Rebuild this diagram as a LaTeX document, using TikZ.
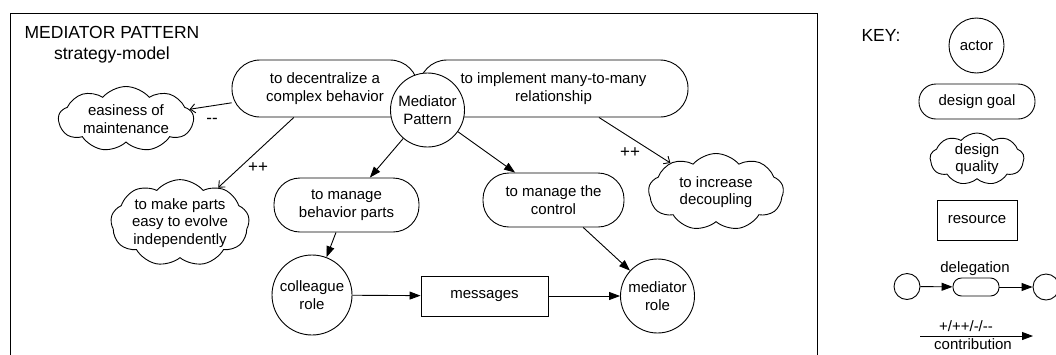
\documentclass[tikz,border=0pt]{standalone}
\usepackage{fontspec}
\setmainfont{Liberation Sans}
\usetikzlibrary{shapes.symbols,arrows.meta}

\begin{document}
\begin{tikzpicture}[x=1pt,y=-1pt,
  every node/.style={font=\fontsize{15}{17.5}\selectfont, align=center, inner sep=0pt},
  ln/.style={line width=0.9pt},
  actor/.style={circle,draw,fill=white,ln},
  goal/.style={rectangle,draw,fill=white,rounded corners=28pt,minimum height=57pt,ln},
  quality/.style={cloud,draw,fill=white,cloud ignores aspect,cloud puffs=9,cloud puff arc=100,ln},
  resource/.style={rectangle,draw,fill=white,ln},
  dep/.style={ln,-{Triangle[length=11pt,width=8pt]}},
  contrib/.style={ln,-{Straight Barb[length=5pt,width=9pt]}},
  sign/.style={font=\fontsize{17}{20}\selectfont},
  big/.style={font=\fontsize{17.5}{20}\selectfont}
]
\useasboundingbox (0,0) rectangle (1056,354);

% strategy-model frame
\draw[line width=1pt] (10,13) rectangle (817,370);
\node[big] (title) at (112,32) {MEDIATOR PATTERN};
\node[big] (sub) at (112,55) {strategy-model};

% design goals
\node[goal,minimum width=186pt] (dec) at (325,88.5) {to decentralize a\\complex behavior};
\node[goal,minimum width=269pt] (many) at (553.5,88.5) {to implement many-to-many\\relationship};
\node[actor,minimum size=74pt] (med) at (427.5,110) {Mediator\\Pattern};
\node[goal,minimum width=145pt,minimum height=54pt,rounded corners=26pt] (mbp) at (346.5,205) {to manage\\behavior parts};
\node[goal,minimum width=141pt,minimum height=54pt,rounded corners=26pt] (ctl) at (553.5,200) {to manage the\\control};

% design qualities
\node[quality,minimum width=135pt,minimum height=65pt] (ease) at (126,119) {easiness of\\maintenance};
\node[quality,minimum width=136pt,minimum height=77pt] (evolve) at (180,223) {to make parts\\easy to evolve\\independently};
\node[quality,minimum width=135pt,minimum height=77pt] (decoup) at (716,192) {to increase\\decoupling};

% roles and resource
\node[actor,minimum size=80pt] (col) at (312,295) {colleague\\role};
\node[resource,minimum width=127pt,minimum height=40pt] (msg) at (484.5,296) {messages};
\node[actor,minimum size=74pt] (mrole) at (657.5,296) {mediator\\role};

% contributions
\draw[contrib] (dec) -- (ease);
\draw[contrib] (dec) -- (evolve);
\draw[contrib] (many) -- (decoup);
\node[sign] (cm) at (212,121) {{-}{-}};
\node[sign] (cp1) at (258,168) {++};
\node[sign] (cp2) at (630,153) {++};

% delegations
\draw[dep] (med) -- (mbp);
\draw[dep] (med) -- (ctl);
\draw[dep] (mbp) -- (col);
\draw[dep] (ctl) -- (mrole);
\draw[dep] (col) -- (msg);
\draw[dep] (msg) -- (mrole);

% key
\node[big] (key) at (881,35) {KEY:};
\node[actor,minimum size=55pt] (kact) at (976.5,45.5) {actor};
\node[goal,minimum width=116pt,minimum height=35pt,rounded corners=17pt] (kgoal) at (977,101.5) {design goal};
\node[quality,minimum width=94pt,minimum height=52pt] (kqual) at (977,159) {design\\quality};
\node[resource,minimum width=80pt,minimum height=40pt] (kres) at (977,220) {resource};
\node (kdel) at (975,269) {delegation};
\node[actor,minimum size=26pt] (kc1) at (907,286.5) {};
\node[goal,minimum width=46pt,minimum height=18pt,rounded corners=8.5pt] (kg) at (976,287) {};
\node[actor,minimum size=26pt] (kc2) at (1046,287) {};
\draw[dep] (kc1) -- (kg);
\draw[dep] (kg) -- (kc2);
\coordinate (ka) at (920,336);
\coordinate (kb) at (1033,336);
\draw[dep] (ka) -- (kb);
\node (kplus) at (966,326) {+/++/{-}/{-}{-}};
\node (kcon) at (973,344) {contribution};
\end{tikzpicture}
\end{document}
